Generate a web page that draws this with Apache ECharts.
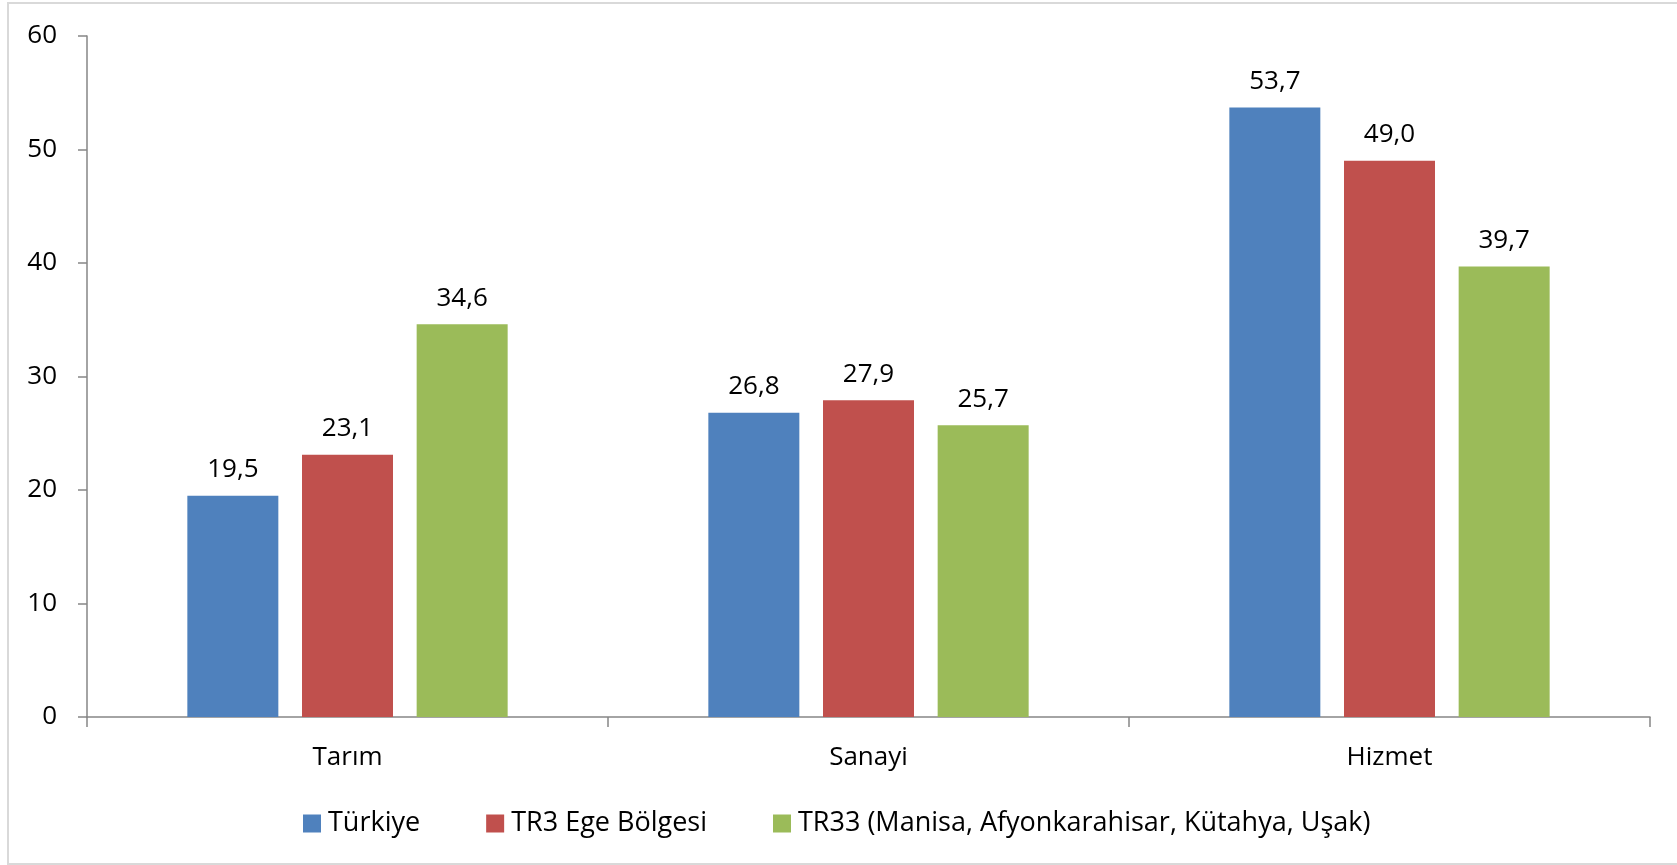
<!DOCTYPE html>
<html lang="tr">
<head>
    <meta charset="UTF-8">
    <title>Sektörel istihdam</title>
    <script src="https://cdn.jsdelivr.net/npm/echarts@6.0.0/dist/echarts.min.js"></script>
    <style>
        html, body { margin: 0; padding: 0; background: #fff; }
        #chart { width: 1677px; height: 865px; }
    </style>
</head>
<body>
    <div id="chart"></div>
    <script>
        var categories = ['Tarım', 'Sanayi', 'Hizmet'];
        var seriesNames = ['Türkiye', 'TR3 Ege Bölgesi', 'TR33 (Manisa, Afyonkarahisar, Kütahya, Uşak)'];
        var turkiye = [19.5, 26.8, 53.7];
        var tr3 = [23.1, 27.9, 49.0];
        var tr33 = [34.6, 25.7, 39.7];
        var colors = ['#4f81bd', '#c0504d', '#9bbb59'];

        var font = '"Open Sans", sans-serif';
        var fs = 26;
        var myChart = echarts.init(document.getElementById('chart'));

        var option = {
            animation: false,
            textStyle: { fontFamily: font },
            graphic: [{
                type: 'rect',
                shape: { x: 8, y: 3, width: 1680, height: 861 },
                style: { fill: 'none', stroke: '#d9d9d9', lineWidth: 2 },
                silent: true
            }],
            grid: { left: 87, right: 27, top: 36, bottom: 148 },
            legend: {
                left: 298,
                top: 805,
                icon: 'rect',
                itemWidth: 18,
                itemHeight: 18,
                itemGap: 66,
                textStyle: { fontFamily: font, fontSize: 27, color: '#000', padding: [0, 0, 0, 2] },
                data: seriesNames
            },
            xAxis: {
                type: 'category',
                data: categories,
                axisLine: { lineStyle: { color: '#868686', width: 1.5 } },
                axisTick: { show: true, length: 10, lineStyle: { color: '#868686', width: 1.5 } },
                axisLabel: { fontFamily: font, fontSize: fs, color: '#000', margin: 28 }
            },
            yAxis: {
                type: 'value',
                min: 0,
                max: 60,
                interval: 10,
                splitLine: { show: false },
                axisLine: { show: true, lineStyle: { color: '#868686', width: 1.5 } },
                axisTick: { show: true, length: 9, lineStyle: { color: '#868686', width: 1.5 } },
                axisLabel: { fontFamily: font, fontSize: fs, color: '#000', margin: 30 }
            },
            series: [turkiye, tr3, tr33].map(function (vals, i) {
                return {
                    name: seriesNames[i],
                    type: 'bar',
                    data: vals,
                    barWidth: 91,
                    barGap: '26%',
                    itemStyle: { color: colors[i] },
                    label: {
                        show: true,
                        position: 'top',
                        distance: 13,
                        fontFamily: font,
                        fontSize: fs,
                        color: '#000',
                        formatter: function (p) { return p.value.toFixed(1).replace('.', ','); }
                    }
                };
            })
        };

        myChart.setOption(option);
    </script>
</body>
</html>
